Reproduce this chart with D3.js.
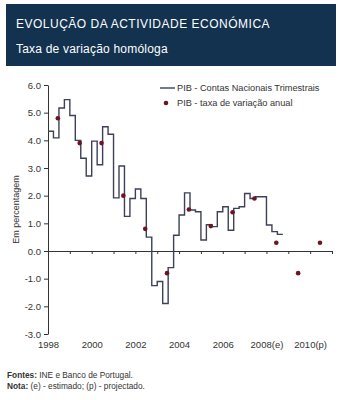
<!DOCTYPE html>
<html lang="pt">
<head>
<meta charset="UTF-8">
<title>Evolução da actividade económica</title>
<script src="https://d3js.org/d3.v7.min.js"></script>
<style>
  body { margin: 0; background: #fff; font-family: "Liberation Sans", Arial, sans-serif; }
  svg text { fill: #333; }
</style>
</head>
<body>
<div id="chart"></div>
<script>
// PIB trimestral (taxa de variação homóloga), 1998T1 a 2008T3
const quarterly = [
  4.33, 4.09, 5.17, 5.47,
  4.90, 4.00, 3.35, 2.71,
  3.97, 3.12, 4.49, 4.22,
  1.92, 3.07, 1.25, 1.90,
  2.24, 1.90, 0.50, -1.25,
  -1.10, -1.90, -0.60, 0.57,
  1.30, 2.10, 1.48, 1.42,
  0.40, 0.95, 0.88, 1.42,
  1.60, 0.75, 1.54, 1.60,
  2.08, 1.90, 1.96, 1.96,
  0.94, 0.70, 0.60
];
// PIB anual
const years = [1998, 1999, 2000, 2001, 2002, 2003, 2004, 2005, 2006, 2007, 2008, 2009, 2010];
const annual = [4.8, 3.9, 3.9, 2.0, 0.8, -0.8, 1.5, 0.9, 1.4, 1.9, 0.3, -0.8, 0.3];

const yTicks = [-3, -2, -1, 0, 1, 2, 3, 4, 5, 6];
const yearTicks = d3.range(1998, 2012);
const yearLabelValues = [1998, 2000, 2002, 2004, 2006, 2008, 2010];
const yearLabels = ["1998", "2000", "2002", "2004", "2006", "2008(e)", "2010(p)"];

const W = 341, H = 400;
const svg = d3.select("#chart").append("svg")
  .attr("width", W).attr("height", H);

// cabeçalho
svg.append("rect")
  .attr("x", 6).attr("y", 4).attr("width", 330).attr("height", 62)
  .attr("fill", "#12324f");
svg.append("text")
  .attr("x", 16).attr("y", 28)
  .style("fill", "#fff").style("font-size", "12px").style("letter-spacing", "0.5px")
  .text("EVOLUÇÃO DA ACTIVIDADE ECONÓMICA");
svg.append("text")
  .attr("x", 16).attr("y", 53)
  .style("fill", "#fff").style("font-size", "12px").style("letter-spacing", "0.2px")
  .text("Taxa de variação homóloga");

const x = d3.scaleLinear().domain([1998, 2011]).range([48, 332]);
const y = d3.scaleLinear().domain([-3, 6]).range([334, 85]);

// eixo Y
const yAxis = svg.append("g")
  .attr("transform", `translate(${x(1998)},0)`)
  .call(d3.axisLeft(y).tickValues(yTicks).tickSize(4).tickSizeOuter(0)
    .tickFormat(d => d.toFixed(1)));
yAxis.selectAll("text").style("font-size", "9.5px").attr("x", -7);
yAxis.selectAll("path, line").attr("stroke", "#333");

// eixo X no zero
const xAxis = svg.append("g")
  .attr("transform", `translate(0,${y(0)})`)
  .call(d3.axisBottom(x).tickValues(yearTicks).tickSize(3).tickSizeOuter(0).tickFormat(""));
xAxis.selectAll("path, line").attr("stroke", "#333");

// anos em baixo
const xLab = svg.append("g")
  .attr("transform", `translate(0,${y(-3) + 4})`)
  .call(d3.axisBottom(x).tickValues(yearLabelValues).tickSize(0)
    .tickFormat((d, i) => yearLabels[i]));
xLab.select(".domain").remove();
xLab.selectAll("text").style("font-size", "9.5px");

svg.append("text")
  .attr("transform", `translate(19,${y(1.5)}) rotate(-90)`)
  .attr("text-anchor", "middle")
  .style("font-size", "9px")
  .text("Em percentagem");

// linha trimestral
const lineData = quarterly.map((v, i) => [1998 + i / 4, v]);
lineData.push([1998 + quarterly.length / 4, quarterly[quarterly.length - 1]]);
svg.append("path")
  .datum(lineData)
  .attr("fill", "none")
  .attr("stroke", "#3c4058")
  .attr("stroke-width", 1.4)
  .attr("d", d3.line().x(d => x(d[0])).y(d => y(d[1])).curve(d3.curveStepAfter));

// pontos anuais
svg.selectAll("circle.anual")
  .data(years)
  .join("circle")
  .attr("class", "anual")
  .attr("cx", d => x(d + 0.45))
  .attr("cy", (d, i) => y(annual[i]))
  .attr("r", 2.3)
  .attr("fill", "#6e1420");

// legenda
const leg = svg.append("g").attr("transform", "translate(160,88)");
leg.append("line").attr("x1", 0).attr("x2", 15).attr("y1", 0).attr("y2", 0)
  .attr("stroke", "#3c4058").attr("stroke-width", 1.4);
leg.append("text").attr("x", 17).attr("y", 3.3).style("font-size", "9.2px")
  .text("PIB - Contas Nacionais Trimestrais");
leg.append("circle").attr("cx", 6).attr("cy", 15).attr("r", 2.3).attr("fill", "#6e1420");
leg.append("text").attr("x", 17).attr("y", 18.3).style("font-size", "9.2px")
  .text("PIB - taxa de variação anual");

// notas
const f1 = svg.append("text").attr("x", 7).attr("y", 378).style("font-size", "8.3px");
f1.append("tspan").style("font-weight", "bold").text("Fontes:");
f1.append("tspan").text(" INE e Banco de Portugal.");
const f2 = svg.append("text").attr("x", 7).attr("y", 389).style("font-size", "8.3px");
f2.append("tspan").style("font-weight", "bold").text("Nota:");
f2.append("tspan").text(" (e) - estimado; (p) - projectado.");
</script>
</body>
</html>
